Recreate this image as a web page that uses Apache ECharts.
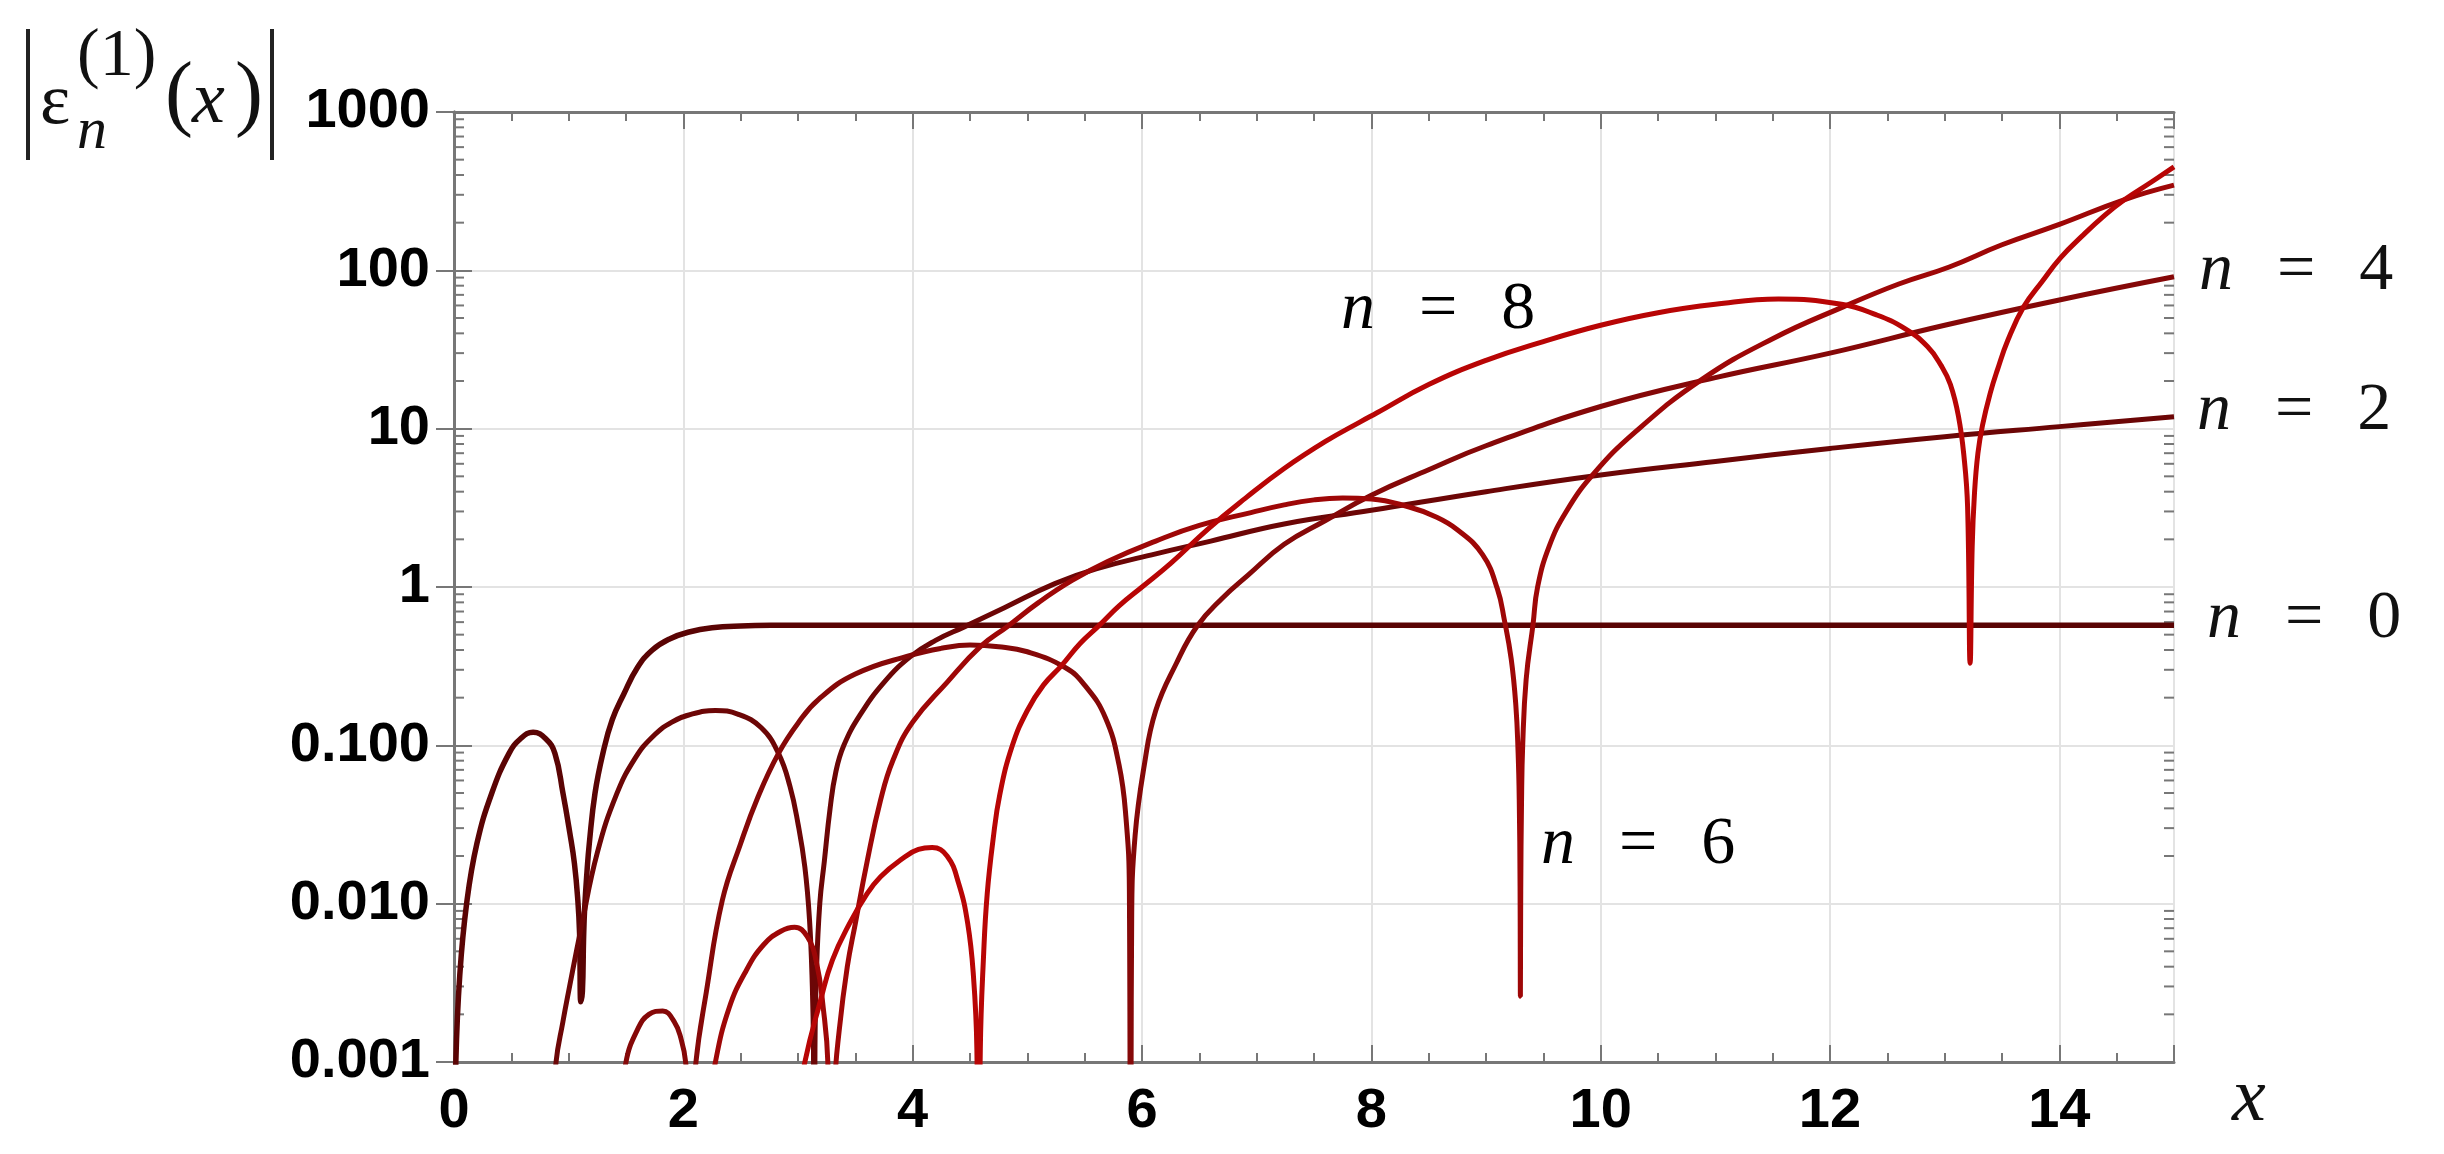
<!DOCTYPE html>
<html>
<head>
<meta charset="utf-8">
<script src="https://cdn.jsdelivr.net/npm/echarts@6/dist/echarts.min.js"></script>
<style>
html,body{margin:0;padding:0;background:#ffffff;}
#chart{width:2444px;height:1154px;}
</style>
</head>
<body>
<div id="chart"></div>
<script>
// ---------------- data ----------------
const seriesNames = ['n = 0', 'n = 2', 'n = 4', 'n = 6', 'n = 8'];
const labelDigits = ['0', '2', '4', '6', '8'];

const xTickLabels = ['0', '2', '4', '6', '8', '10', '12', '14'];
const yTickLabels = ['0.001', '0.010', '0.100', '1', '10', '100', '1000'];
const yMinorTicks = [
  0.002, 0.003, 0.004, 0.005, 0.006, 0.007, 0.008, 0.009,
  0.02, 0.03, 0.04, 0.05, 0.06, 0.07, 0.08, 0.09,
  0.2, 0.3, 0.4, 0.5, 0.6, 0.7, 0.8, 0.9,
  2, 3, 4, 5, 6, 7, 8, 9,
  20, 30, 40, 50, 60, 70, 80, 90,
  200, 300, 400, 500, 600, 700, 800, 900
];

const n0Data = [
  [0.004, 0.0002], [0.016, 0.001], [0.05, 0.0035], [0.11, 0.01], [0.2, 0.024], [0.33, 0.05],
  [0.48, 0.089], [0.58, 0.11], [0.69, 0.121], [0.8, 0.11], [0.88, 0.089], [0.95, 0.05],
  [1.01, 0.028], [1.05, 0.018], [1.08, 0.0105], [1.095, 0.0065], [1.106, 0.0024], [1.12, 0.0028],
  [1.13, 0.006], [1.14, 0.0095], [1.16, 0.016], [1.18, 0.024], [1.23, 0.05], [1.3, 0.09],
  [1.38, 0.145], [1.48, 0.21], [1.6, 0.31], [1.73, 0.4], [1.88, 0.47], [2.05, 0.52],
  [2.25, 0.553], [2.5, 0.568], [2.8, 0.573], [3.5, 0.574], [15, 0.574]
];

const n2Data = [
  [0.84, 0.0003], [0.89, 0.001], [0.95, 0.0018], [1.0, 0.0028], [1.11, 0.0071], [1.25, 0.021],
  [1.42, 0.0495], [1.58, 0.083], [1.73, 0.113], [1.9, 0.14], [2.08, 0.158], [2.28, 0.166],
  [2.48, 0.157], [2.68, 0.129], [2.83, 0.089], [2.93, 0.055], [3.0, 0.032], [3.06, 0.017],
  [3.1, 0.008], [3.125, 0.003], [3.135, 0.0012], [3.1416, 0.00003], [3.148, 0.0012], [3.16, 0.0035],
  [3.19, 0.01], [3.23, 0.0186], [3.28, 0.04], [3.33, 0.068], [3.4, 0.1], [3.54, 0.155],
  [3.75, 0.25], [3.98, 0.363], [4.2, 0.46], [4.45, 0.56], [4.8, 0.74], [5.24, 1.05],
  [5.6, 1.3], [6.12, 1.62], [6.6, 1.95], [7.24, 2.5], [8, 3.05], [9, 4.0],
  [10, 5.1], [11, 6.2], [12, 7.5], [13, 8.9], [14, 10.3], [15, 11.9]
];

const n4Data = [
  [1.44, 0.0004], [1.5, 0.001], [1.6, 0.0016], [1.7, 0.002], [1.82, 0.0021], [1.92, 0.0018],
  [1.98, 0.0014], [2.02, 0.001], [2.05, 0.0004], [2.065, 0.00003], [2.08, 0.0004], [2.11, 0.001],
  [2.2, 0.00275], [2.34, 0.0105], [2.5, 0.024], [2.65, 0.047], [2.83, 0.089], [3.0, 0.138],
  [3.18, 0.195], [3.5, 0.282], [3.98, 0.37], [4.25, 0.41], [4.5, 0.43], [4.75, 0.42],
  [5.0, 0.39], [5.33, 0.31], [5.5, 0.24], [5.68, 0.15], [5.8, 0.075], [5.86, 0.035],
  [5.89, 0.012], [5.9, 0.00003], [5.91, 0.008], [5.94, 0.027], [6.02, 0.075], [6.12, 0.166],
  [6.3, 0.33], [6.48, 0.565], [6.7, 0.85], [6.92, 1.18], [7.24, 1.86], [7.6, 2.63],
  [8.0, 3.8], [8.5, 5.5], [9, 7.8], [10, 13.8], [11, 21], [12, 30],
  [13, 45], [14, 65], [15, 91]
];

const n6Data = [
  [2.2, 0.0004], [2.28, 0.001], [2.4, 0.0022], [2.55, 0.0038], [2.7, 0.0055], [2.85, 0.0067],
  [2.97, 0.0071], [3.08, 0.0062], [3.16, 0.0043], [3.22, 0.0022], [3.26, 0.001], [3.29, 0.00003],
  [3.32, 0.0007], [3.36, 0.0016], [3.43, 0.004], [3.5, 0.0075], [3.6, 0.018], [3.72, 0.045],
  [3.83, 0.081], [4.0, 0.14], [4.3, 0.25], [4.59, 0.42], [4.83, 0.566], [5.1, 0.8],
  [5.39, 1.1], [5.7, 1.45], [6.12, 1.95], [6.5, 2.45], [6.95, 2.95], [7.24, 3.3],
  [7.5, 3.55], [7.75, 3.65], [8.0, 3.6], [8.33, 3.2], [8.55, 2.8], [8.75, 2.3],
  [8.97, 1.6], [9.1, 0.97], [9.16, 0.62], [9.22, 0.35], [9.26, 0.18], [9.28, 0.09],
  [9.29, 0.045], [9.297, 0.013], [9.3, 0.0026], [9.303, 0.012], [9.31, 0.045], [9.32, 0.1],
  [9.35, 0.26], [9.41, 0.58], [9.45, 1.0], [9.55, 1.8], [9.7, 3.0], [9.93, 5.1],
  [10.3, 9.5], [10.88, 20.4], [11.5, 37], [12.12, 59], [12.6, 82], [13.04, 105],
  [13.5, 145], [14, 195], [14.57, 280], [15, 345]
];

const n8Data = [
  [3.0, 0.0005], [3.06, 0.001], [3.2, 0.0025], [3.3, 0.0044], [3.45, 0.0075], [3.6, 0.0115],
  [3.72, 0.0148], [3.9, 0.019], [4.05, 0.022], [4.17, 0.0226], [4.3, 0.02], [4.4, 0.0135],
  [4.48, 0.0075], [4.53, 0.0035], [4.56, 0.0012], [4.575, 0.00003], [4.59, 0.0012], [4.62, 0.005],
  [4.65, 0.0115], [4.7, 0.025], [4.76, 0.049], [4.87, 0.1], [5.0, 0.166], [5.14, 0.24],
  [5.3, 0.32], [5.46, 0.44], [5.62, 0.566], [5.8, 0.76], [6.0, 1.0], [6.25, 1.41],
  [6.58, 2.34], [6.9, 3.63], [7.24, 5.6], [7.6, 8.3], [7.9, 11], [8.05, 12.6],
  [8.5, 19], [9, 27], [9.5, 35.5], [10, 45], [10.5, 54], [11, 61],
  [11.55, 66], [12.1, 61], [12.4, 52.5], [12.65, 43], [12.85, 33], [12.97, 25],
  [13.05, 19], [13.12, 12], [13.17, 6.5], [13.2, 3.2], [13.222, 0.33], [13.24, 1.8],
  [13.26, 3.9], [13.29, 7], [13.33, 10.5], [13.4, 17], [13.46, 23.5], [13.55, 36],
  [13.69, 59], [13.85, 85], [14.01, 120], [14.2, 165], [14.4, 224], [14.57, 280],
  [14.8, 360], [15, 450]
];

// ---------------- styling ----------------
const SERIF = "'Liberation Serif','Times New Roman',serif";
const SANS = "'Liberation Sans',Arial,sans-serif";
const lineColors = ['#5a0404', '#6c0606', '#850808', '#9e0707', '#b80505'];
const lineWidths = [5.5, 5, 5, 5, 5];
const frameColor = '#777777';
const gridColor = '#e3e3e3';

const labelRich = {
  i: { fontFamily: SERIF, fontStyle: 'italic', fontSize: 68, color: '#111' },
  e: { fontFamily: SERIF, fontSize: 68, color: '#111', padding: [0, 0, 0, 44] },
  d: { fontFamily: SERIF, fontSize: 68, color: '#111', padding: [0, 0, 0, 44] }
};
function labelText(k) { return '{i|n}{e|=}{d|' + labelDigits[k] + '}'; }

const allData = [n0Data, n2Data, n4Data, n6Data, n8Data];
const endLabelDistance = [33, 23, 25, null, null];

const lineSeries = allData.map(function (d, k) {
  const s = {
    name: seriesNames[k],
    type: 'line',
    data: d,
    xAxisIndex: 0,
    yAxisIndex: 0,
    symbol: 'none',
    showSymbol: false,
    smooth: 0.45,
    clip: true,
    silent: true,
    z: 3 + k,
    lineStyle: { color: lineColors[k], width: lineWidths[k], join: 'bevel' },
    emphasis: { disabled: true }
  };
  if (endLabelDistance[k] != null) {
    s.endLabel = {
      show: true,
      distance: endLabelDistance[k],
      offset: [0, -6],
      formatter: function () { return labelText(k); },
      rich: labelRich
    };
  }
  return s;
});

const minorTickSeries = {
  type: 'custom',
  xAxisIndex: 0,
  yAxisIndex: 0,
  silent: true,
  clip: false,
  z: 2,
  data: yMinorTicks.map(function (v) { return [0, v]; }),
  renderItem: function (params, api) {
    const v = api.value(1);
    const l = api.coord([0, v]);
    const r = api.coord([15, v]);
    return {
      type: 'group',
      children: [
        { type: 'line', shape: { x1: l[0], y1: l[1], x2: l[0] + 10, y2: l[1] },
          style: { stroke: frameColor, lineWidth: 2 } },
        { type: 'line', shape: { x1: r[0] - 10, y1: r[1], x2: r[0], y2: r[1] },
          style: { stroke: frameColor, lineWidth: 2 } }
      ]
    };
  }
};

const axisLineStyle = { lineStyle: { color: frameColor, width: 3 } };
const majorTick = { show: true, inside: true, length: 17, lineStyle: { color: frameColor, width: 2 } };
const minorTickX = { show: true, splitNumber: 4, length: 9, lineStyle: { color: frameColor, width: 2 } };

function textEl(x, y, text, size, italic, align) {
  return {
    type: 'text', x: x, y: y,
    style: {
      text: text, fontFamily: SERIF, fontSize: size, fontStyle: italic ? 'italic' : 'normal', fill: '#111',
      textAlign: align, textVerticalAlign: 'middle', align: align, verticalAlign: 'middle'
    }
  };
}

const option = {
  animation: false,
  backgroundColor: '#ffffff',
  grid: { left: 454, top: 112, width: 1720, height: 950, containLabel: false },
  xAxis: [
    {
      type: 'value', min: 0, max: 15, interval: 2, position: 'bottom',
      axisLine: axisLineStyle,
      axisTick: majorTick,
      minorTick: minorTickX,
      axisLabel: {
        fontFamily: SANS, fontWeight: 'bold', fontSize: 56, color: '#000', margin: 22,
        showMaxLabel: false,
        formatter: function (v) { const i = Math.round(v / 2); return (v % 2 === 0 && xTickLabels[i]) ? xTickLabels[i] : ''; }
      },
      splitLine: { show: true, lineStyle: { color: gridColor, width: 2 } },
      name: 'x', nameLocation: 'end', nameGap: 58,
      nameTextStyle: { fontFamily: SERIF, fontStyle: 'italic', fontSize: 76, color: '#111',
                       align: 'left', verticalAlign: 'top' }
    },
    {
      type: 'value', min: 0, max: 15, interval: 2, position: 'top',
      axisLine: axisLineStyle,
      axisTick: majorTick,
      minorTick: minorTickX,
      axisLabel: { show: false },
      splitLine: { show: false }
    }
  ],
  yAxis: [
    {
      type: 'log', logBase: 10, min: 0.001, max: 1000, splitNumber: 6, position: 'left',
      axisLine: axisLineStyle,
      axisTick: { show: true, inside: true, length: 18, lineStyle: { color: frameColor, width: 2 } },
      axisLabel: {
        fontFamily: SANS, fontWeight: 'bold', fontSize: 56, color: '#000', margin: 24,
        formatter: function (v) { const e = Math.round(Math.log10(v)); return yTickLabels[e + 3] || ''; }
      },
      splitLine: { show: true, lineStyle: { color: gridColor, width: 2 } }
    },
    {
      type: 'log', logBase: 10, min: 0.001, max: 1000, splitNumber: 6, position: 'right',
      axisLine: axisLineStyle,
      axisTick: { show: true, inside: true, length: 18, lineStyle: { color: frameColor, width: 2 } },
      axisLabel: { show: false },
      splitLine: { show: false }
    }
  ],
  graphic: [
    // y-axis title  |ε_n^(1)(x)|
    { type: 'rect', shape: { x: 26, y: 29, width: 4, height: 131 }, style: { fill: '#222' } },
    { type: 'rect', shape: { x: 270, y: 29, width: 4, height: 131 }, style: { fill: '#222' } },
    textEl(40, 104, 'ε', 72, false, 'left'),
    textEl(77, 132, 'n', 60, true, 'left'),
    textEl(77, 57, '(1)', 68, false, 'left'),
    textEl(165, 98, '(', 84, false, 'left'),
    textEl(192, 103, 'x', 74, true, 'left'),
    textEl(263, 98, ')', 84, false, 'right'),
    // in-plot curve labels
    { type: 'text', x: 1341, y: 310, z: 20, style: { text: labelText(4), rich: labelRich,
      textAlign: 'left', textVerticalAlign: 'middle', align: 'left', verticalAlign: 'middle' } },
    { type: 'text', x: 1541, y: 845, z: 20, style: { text: labelText(3), rich: labelRich,
      textAlign: 'left', textVerticalAlign: 'middle', align: 'left', verticalAlign: 'middle' } }
  ],
  series: [minorTickSeries].concat(lineSeries)
};

const chart = echarts.init(document.getElementById('chart'), null, { renderer: 'canvas', width: 2444, height: 1154 });
chart.setOption(option);
</script>
</body>
</html>
